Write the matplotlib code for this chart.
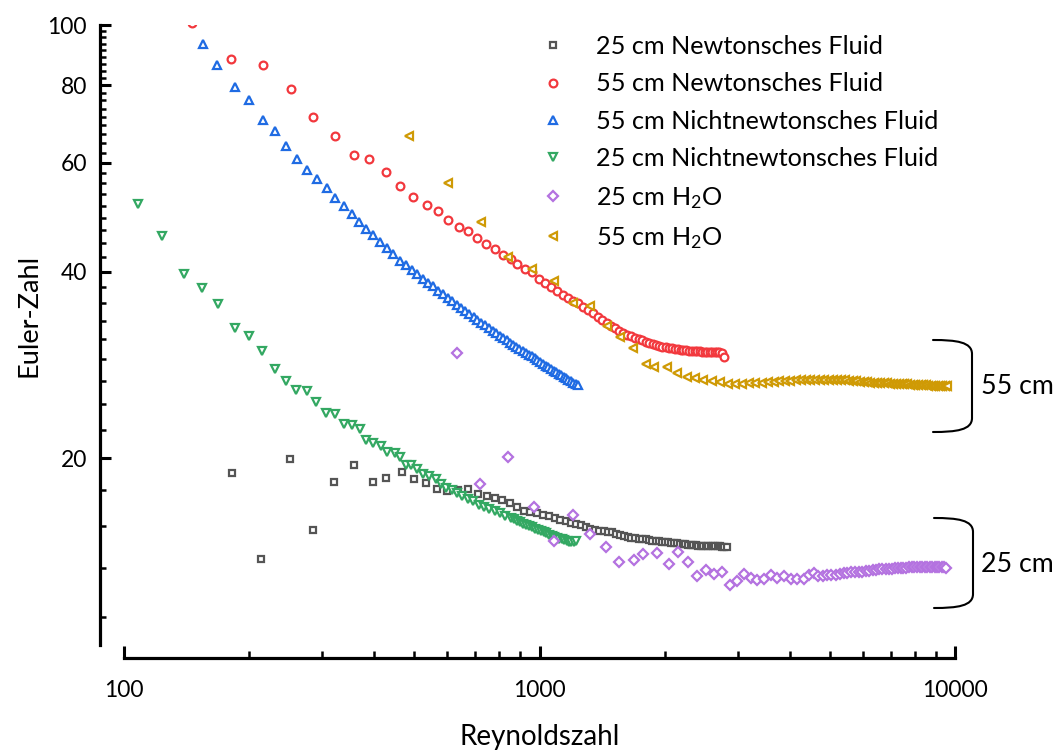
import numpy as np
import matplotlib
matplotlib.use("Agg")
import matplotlib.pyplot as plt
from matplotlib.ticker import FixedLocator, FixedFormatter, NullFormatter, LogLocator
from matplotlib.path import Path
from matplotlib.patches import PathPatch

plt.rcParams['font.family'] = ['Lato', 'DejaVu Sans']
plt.rcParams['mathtext.default'] = 'regular'

# ---------------- data: Reynolds number (re_*) and Euler number (eu_*) ----------------
re_newton_25 = [181.7, 213.8, 250.8, 285.3, 320.1, 357.5, 396.8, 426.6, 466.3, 499.7, 532.6, 565.9, 598.6,
                636, 674, 712, 749, 782, 814,
                849, 883, 917, 951, 985, 1019, 1053, 1087, 1121, 1155, 1189, 1223, 1257, 1291, 1325,
                1359, 1393, 1427, 1461, 1495, 1529, 1563, 1597, 1631, 1665, 1699, 1733, 1767, 1801, 1835,
                1869, 1903, 1937, 1971, 2005, 2039, 2073, 2107, 2141, 2175, 2209, 2243, 2277, 2311, 2345,
                2379, 2413, 2447, 2481, 2515, 2549, 2583, 2617, 2651, 2685, 2719, 2753, 2787, 2821]
eu_newton_25 = [18.96, 13.74, 19.95, 15.33, 18.3, 19.5, 18.29, 18.58, 18.98, 18.54, 18.24, 17.86, 17.73,
                17.75, 17.86, 17.51, 17.36, 17.25, 17.15,
                16.93, 16.68, 16.45, 16.38, 16.31, 16.2, 16.12, 16.03, 15.9, 15.82, 15.76, 15.67, 15.6, 15.5, 15.4,
                15.32, 15.29, 15.26, 15.24, 15.2, 15.12, 15.06, 15.0, 14.94, 14.9, 14.86, 14.85, 14.84, 14.8, 14.76,
                14.73, 14.71, 14.69, 14.67, 14.66, 14.64, 14.63, 14.61, 14.59, 14.57, 14.55, 14.53, 14.52, 14.51, 14.5,
                14.49, 14.47, 14.46, 14.46, 14.45, 14.45, 14.45, 14.44, 14.44, 14.43, 14.42, 14.41, 14.4, 14.38]

re_newton_55 = [145.5, 181, 215.8, 252, 284.5, 322.6, 357.7, 389.4, 427, 461.6, 495.2, 535.3, 569.8,
                603.4, 640.2, 672.9, 708.7, 744.9, 781.6, 818.5, 854.2, 884.6, 922.9, 960.9, 995, 1031,
                1066, 1101, 1136, 1171, 1206, 1241, 1276, 1311, 1346, 1381, 1416, 1451, 1486, 1521, 1556,
                1591, 1626, 1661, 1696, 1731, 1766, 1801, 1836, 1871, 1906, 1941, 1976, 2011, 2046, 2081,
                2116, 2151, 2186, 2221, 2256, 2291, 2326, 2361, 2396, 2431, 2466, 2501, 2536, 2571, 2606,
                2641, 2676, 2711, 2746, 2781]
eu_newton_55 = [100.8, 88.1, 86.1, 78.7, 71.0, 66.2, 61.7, 60.9, 58.0, 55.0, 52.7, 51.3, 50.2,
                48.4, 47.2, 46.6, 45.3, 44.4, 43.5, 42.6, 41.9, 41.2, 40.4, 39.9, 39.0, 38.4,
                37.75, 37.3, 36.75, 36.3, 35.9, 35.55, 35.05, 34.7, 34.3, 33.8, 33.45, 33.1, 32.75, 32.4, 32.15,
                31.9, 31.65, 31.45, 31.3, 31.15, 31.0, 30.85, 30.7, 30.6, 30.5, 30.4, 30.3, 30.2, 30.15, 30.1,
                30.05, 30.0, 29.95, 29.9, 29.9, 29.85, 29.8, 29.8, 29.8, 29.75, 29.7, 29.7, 29.7, 29.7, 29.7,
                29.65, 29.7, 29.65, 29.6, 29.1]

re_nonnewton_55 = [154.7, 167.2, 184.7, 200.3, 215.8, 230.9, 245.4, 261.3, 276.2, 291.4, 307.4, 322, 337.9,
                   353.2, 367.2, 382.3, 398.1, 413.2, 428.8, 444.8, 461.6,
                   477, 492, 508, 523, 539, 554, 570, 585, 601, 616, 632, 647, 663, 678, 694, 709, 725, 740,
                   756, 771, 787, 802, 818, 833, 849, 864, 880, 895, 911, 926, 942, 957, 973, 988, 1004, 1019,
                   1035, 1050, 1066, 1081, 1097, 1112, 1128, 1143, 1159, 1174, 1190, 1205, 1221, 1236]
eu_nonnewton_55 = [93.2, 86.1, 79.5, 75.8, 70.4, 67.5, 63.8, 60.7, 58.3, 56.4, 54.6, 52.6, 51.0,
                   49.6, 48.2, 46.9, 45.8, 44.6, 43.7, 42.7, 41.6,
                   41.0, 40.3, 39.6, 39.0, 38.4, 37.9, 37.3, 36.8, 36.3, 35.9, 35.4, 35.0, 34.6, 34.2, 33.8, 33.4,
                   33.1, 32.8, 32.4, 32.1, 31.8, 31.5, 31.25, 31.0, 30.75, 30.5, 30.3, 30.0, 29.8, 29.6, 29.4, 29.2,
                   29.0, 28.8, 28.6, 28.4, 28.2, 28.1, 27.9, 27.7, 27.6, 27.4, 27.3, 27.1, 27.0, 26.8, 26.7, 26.5,
                   26.4, 26.3]

re_nonnewton_25 = [108.3, 123.7, 139.5, 154.3, 168.6, 184.7, 199.6, 214.5, 230.5, 244.9, 260, 275, 290,
                   305.8, 322, 337.7, 353.4, 369.8, 382.5, 398, 416.6, 430.7, 448.1, 461.6, 478.3, 491.7,
                   507.6, 525, 543, 562.6, 580, 597, 615, 633.5, 652.6, 672.6, 692.6, 713.6, 734.8, 757,
                   779.7, 803.3, 827.7, 852, 868, 884, 900, 915, 930, 946, 961, 977, 992, 1008, 1023, 1039,
                   1054, 1070, 1085, 1101, 1116, 1132, 1147, 1163, 1178, 1194, 1209, 1225]
eu_nonnewton_25 = [51.5, 45.7, 39.7, 37.6, 35.5, 32.4, 31.5, 29.8, 27.9, 26.7, 25.8, 25.7, 24.7,
                   23.7, 23.6, 22.7, 22.6, 22.3, 21.4, 21.2, 20.96, 20.5, 20.4, 20.07, 19.5, 19.5,
                   19.2, 18.9, 18.7, 18.5, 18.2, 17.9, 17.8, 17.6, 17.4, 17.2, 17.05, 16.85, 16.7, 16.6,
                   16.45, 16.3, 16.15, 16.0, 15.95, 15.85, 15.78, 15.7, 15.62, 15.55, 15.48, 15.4, 15.33, 15.27,
                   15.2, 15.13, 15.07, 15.0, 14.95, 14.9, 14.85, 14.8, 14.76, 14.72, 14.68, 14.66, 14.65, 14.7]

re_water_25 = [632, 721, 841, 969, 1085, 1205, 1326, 1443, 1556, 1688, 1772, 1921, 2050, 2159, 2281,
               2389, 2512, 2630, 2754, 2873, 2992, 3106, 3223, 3344, 3470, 3601, 3735, 3876, 4022, 4173, 4331,
               4449, 4567, 4685, 4803, 4921, 5039, 5157, 5275, 5393, 5511, 5629, 5747, 5865, 5983, 6101,
               6219, 6337, 6455, 6573, 6691, 6809, 6927, 7045, 7163, 7281, 7399, 7517, 7635, 7753, 7871,
               7989, 8107, 8225, 8343, 8461, 8579, 8697, 8815, 8933, 9051, 9169, 9287, 9405, 9523]
eu_water_25 = [29.6, 18.2, 20.1, 16.7, 14.7, 16.2, 15.1, 14.4, 13.6, 13.7, 14.0, 14.05, 13.5, 14.1, 13.6,
               12.9, 13.2, 13.0, 13.1, 12.5, 12.7, 13.0, 12.84, 12.73, 12.77, 12.99, 12.84, 12.92, 12.8, 12.8, 12.77,
               12.95, 13.08, 12.93, 12.92, 12.97, 12.99, 12.99, 13.03, 13.05, 13.07, 13.1, 13.12, 13.12, 13.13, 13.16,
               13.18, 13.2, 13.22, 13.24, 13.24, 13.25, 13.27, 13.28, 13.3, 13.31, 13.32, 13.32, 13.33, 13.34, 13.35,
               13.35, 13.36, 13.37, 13.37, 13.38, 13.38, 13.38, 13.38, 13.38, 13.38, 13.38, 13.37, 13.36, 13.33]

re_water_55 = [486, 603, 722, 841, 961, 1081, 1206, 1323, 1451, 1562, 1676, 1804, 1889, 2024, 2138,
               2261, 2367, 2479, 2596, 2719,
               2837, 2955, 3073, 3191, 3309, 3427, 3545, 3663, 3781, 3899, 4017, 4135, 4253, 4371, 4489,
               4607, 4725, 4843, 4961, 5079, 5197, 5315, 5433, 5551, 5669, 5787, 5905, 6023, 6141, 6259,
               6377, 6495, 6613, 6731, 6849, 6967, 7085, 7203, 7321, 7439, 7557, 7675, 7793, 7911, 8029,
               8147, 8265, 8383, 8501, 8619, 8737, 8855, 8973, 9091, 9209, 9327, 9445, 9563]
eu_water_55 = [66.2, 55.7, 48.1, 42.3, 40.4, 38.7, 35.6, 35.2, 32.7, 31.4, 30.1, 28.36, 28.07, 28.03, 27.48,
               27.04, 26.91, 26.71, 26.65, 26.57,
               26.35, 26.33, 26.4, 26.46, 26.48, 26.48, 26.52, 26.55, 26.62, 26.67, 26.7, 26.72, 26.75, 26.77, 26.78,
               26.79, 26.8, 26.8, 26.8, 26.8, 26.79, 26.77, 26.73, 26.69, 26.66, 26.61, 26.57, 26.54, 26.51, 26.5,
               26.48, 26.46, 26.45, 26.44, 26.42, 26.4, 26.38, 26.37, 26.36, 26.34, 26.33, 26.32, 26.3, 26.28, 26.27,
               26.26, 26.25, 26.24, 26.22, 26.21, 26.21, 26.2, 26.19, 26.18, 26.16, 26.15, 26.14, 26.14]

labels = ['25 cm Newtonsches Fluid', '55 cm Newtonsches Fluid', '55 cm Nichtnewtonsches Fluid',
          '25 cm Nichtnewtonsches Fluid', '25 cm H$_2$O', '55 cm H$_2$O']
y_tick_values = [20, 40, 60, 80, 100]
x_tick_values = [100, 1000, 10000]
x_tick_labels = ['100', '1000', '10000']
group_labels = ['55 cm', '25 cm']

# ---------------- figure ----------------
W, H = 1058, 750
fig = plt.figure(figsize=(W / 100, H / 100), dpi=100)
ax = fig.add_axes([124 / W, 1 - 645 / H, (955 - 124) / W, (645 - 25) / H])
ax.set_xscale('log')
ax.set_yscale('log')
ax.set_xlim(100, 10000)
ax.set_ylim(10, 100)

styles = [
    ('s', '#555555', 4.7),
    ('o', '#f2383d', 5.6),
    ('^', '#1f6be3', 6.2),
    ('v', '#33a862', 6.2),
    ('D', '#b472e0', 5.0),
    ('<', '#cf9a05', 6.2),
]
series = [(re_newton_25, eu_newton_25), (re_newton_55, eu_newton_55),
          (re_nonnewton_55, eu_nonnewton_55), (re_nonnewton_25, eu_nonnewton_25),
          (re_water_25, eu_water_25), (re_water_55, eu_water_55)]

for (x, y), (m, c, ms), lab in zip(series, styles, labels):
    ax.plot(x, y, ls='none', marker=m, ms=ms, mfc='white', mec=c, mew=1.6, label=lab)

# axes: detached left and bottom spines, inward ticks
for side in ('top', 'right'):
    ax.spines[side].set_visible(False)
ax.spines['left'].set_position(('outward', 24 * 0.72))
ax.spines['bottom'].set_position(('outward', 13 * 0.72))
for side in ('left', 'bottom'):
    ax.spines[side].set_linewidth(2.3)
    ax.spines[side].set_capstyle('projecting')

ax.yaxis.set_major_locator(FixedLocator(y_tick_values))
ax.yaxis.set_major_formatter(FixedFormatter([str(v) for v in y_tick_values]))
minor_y = [20 + k * 20 / 9 for k in range(-4, 37)]
minor_y = [v for v in minor_y if 10 < v < 100 and all(abs(v - t) > 1e-6 for t in y_tick_values)]
ax.yaxis.set_minor_locator(FixedLocator(minor_y))
ax.yaxis.set_minor_formatter(NullFormatter())

ax.xaxis.set_major_locator(FixedLocator(x_tick_values))
ax.xaxis.set_major_formatter(FixedFormatter(x_tick_labels))
ax.xaxis.set_minor_locator(LogLocator(base=10, subs=np.arange(2, 10)))
ax.xaxis.set_minor_formatter(NullFormatter())

ax.tick_params(axis='y', which='major', direction='in', length=8, width=2.2, pad=9.5, labelsize=16.5)
ax.tick_params(axis='y', which='minor', direction='in', length=4.3, width=1.8)
ax.tick_params(axis='x', which='major', direction='in', length=9, width=2.2, pad=15.5, labelsize=16.5)
ax.tick_params(axis='x', which='minor', direction='in', length=5, width=1.8)

fig.text(29 / W, 1 - 315 / H, 'Euler-Zahl', rotation=90, ha='center', va='center', fontsize=19.5)
fig.text(540 / W, 1 - 737 / H, 'Reynoldszahl', ha='center', va='center', fontsize=20)

leg = ax.legend(loc='upper left', bbox_to_anchor=(540.4 / W, 1 - 35 / H), bbox_transform=fig.transFigure,
                frameon=False, borderpad=0, borderaxespad=0, handlelength=1.0, handletextpad=1.2,
                labelspacing=0.57, fontsize=18.2, numpoints=1)

# curly group brackets at the right edge
def fig_xy(px, py):
    return (px / W, 1 - py / H)

def bracket(top, bottom, x0, x1):
    verts = [fig_xy(x0, top), fig_xy(x0 + 0.6 * (x1 - x0), top), fig_xy(x1, top + 2), fig_xy(x1, top + 14),
             fig_xy(x1, bottom - 14),
             fig_xy(x1, bottom - 2), fig_xy(x0 + 0.6 * (x1 - x0), bottom), fig_xy(x0, bottom)]
    codes = [Path.MOVETO, Path.CURVE4, Path.CURVE4, Path.CURVE4, Path.LINETO,
             Path.CURVE4, Path.CURVE4, Path.CURVE4]
    fig.add_artist(PathPatch(Path(verts, codes), transform=fig.transFigure, fill=False,
                             lw=1.5, edgecolor='black', capstyle='round'))

bracket(340, 432, 933, 972)
bracket(518, 608, 934, 973)
fig.text(981 / W, 1 - 387 / H, group_labels[0], ha='left', va='center', fontsize=19.3)
fig.text(981 / W, 1 - 565 / H, group_labels[1], ha='left', va='center', fontsize=19.3)

fig.savefig('out.png', dpi=100)
